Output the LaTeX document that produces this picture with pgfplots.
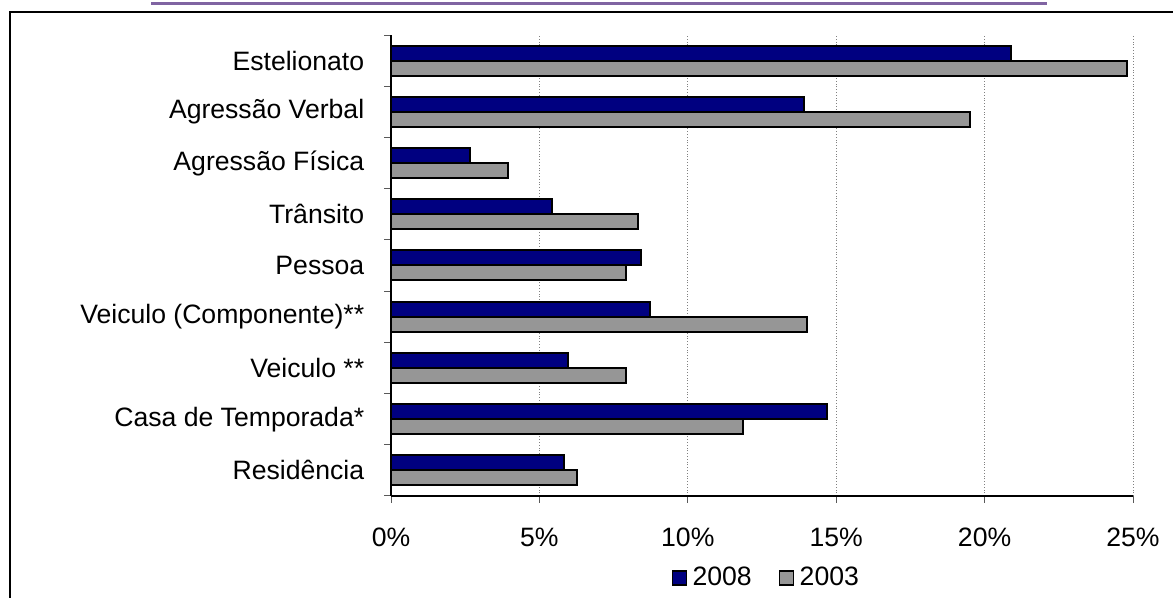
\documentclass[border=0pt]{standalone}
\usepackage{fontspec}
\setmainfont{Liberation Sans}
\usepackage{pgfplots}
\pgfplotsset{compat=1.18}
\definecolor{barblue}{RGB}{0,0,128}
\definecolor{bargray}{RGB}{150,150,150}
\definecolor{topline}{RGB}{128,100,162}
\begin{document}
\fontsize{13.3}{15}\selectfont
\begin{tikzpicture}
\clip (0,0) rectangle (586.5pt,299pt);
\fill[white] (0,0) rectangle (586.5pt,299pt);
\draw[line width=1pt] (5pt,-20pt) rectangle (620pt,293pt);
\draw[topline, line width=1.6pt] (75.5pt,297.4pt) -- (523.5pt,297.4pt);
\begin{axis}[
  at={(195.5pt,51pt)}, anchor=south west,
  scale only axis, width=371pt, height=230.5pt,
  xbar, bar width=7.5pt,
  xmin=0, xmax=25, ymin=-0.5, ymax=8.5,
  axis x line*=bottom, axis y line*=left,
  axis line style={line width=0.6pt},
  xtick={0,5,10,15,20,25},
  xticklabels={0\%,5\%,10\%,15\%,20\%,25\%},
  xmajorgrids, major grid style={densely dotted, gray, line width=0.5pt},
  tick align=outside, major tick length=3.5pt,
  tick style={gray!70!black, line width=0.5pt},
  ytick={-0.5,0.5,...,8.5}, yticklabels={},
  extra y ticks={0,1,2,3,4,5,6,7,8},
  extra y tick labels={Residência,Casa de Temporada*,Veiculo **,Veiculo (Componente)**,Pessoa,Trânsito,Agressão Física,Agressão Verbal,Estelionato},
  extra y tick style={major tick length=0pt, grid=none, yticklabel style={inner sep=0pt, anchor=east, xshift=-13.2pt}},
  xticklabel style={inner sep=0pt, anchor=north, yshift=-12.2pt},
  tick label style={font=\fontsize{13.3}{15}\selectfont},
  legend style={at={(0.505,-0.178)}, anchor=center, draw=none, fill=none,
    legend columns=2, font=\fontsize{13.3}{15}\selectfont,
    inner sep=0pt,
    nodes={inner sep=0.5pt},
    /tikz/every odd column/.append style={column sep=2.2pt},
    /tikz/every even column/.append style={column sep=13pt}},
  legend image code/.code={\draw[#1, line width=0.8pt, draw=black] (0pt,-3.5pt) rectangle (7pt,3.5pt);},
]
\addplot[fill=barblue, draw=black, line width=1pt, bar shift=3.75pt] coordinates {
(5.83,0) (14.68,1) (5.96,2) (8.73,3) (8.42,4) (5.42,5) (2.65,6) (13.9,7) (20.9,8)};
\addplot[fill=bargray, draw=black, line width=1pt, bar shift=-3.75pt] coordinates {
(6.27,0) (11.86,1) (7.92,2) (14.0,3) (7.92,4) (8.33,5) (3.95,6) (19.5,7) (24.8,8)};
\legend{2008,2003}
\end{axis}
\end{tikzpicture}
\end{document}
